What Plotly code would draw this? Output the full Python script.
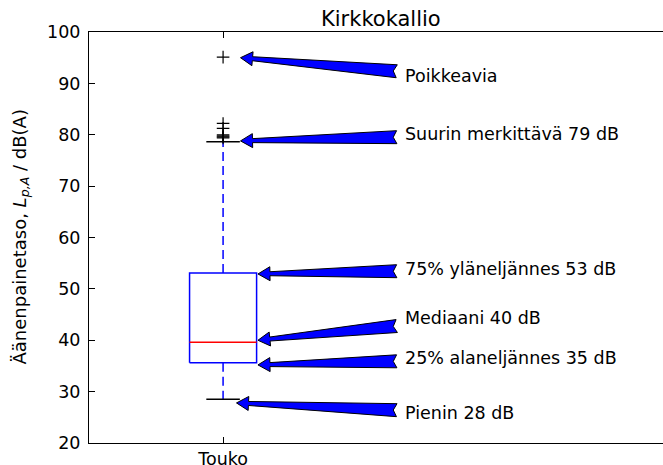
import plotly.graph_objects as go

# Kuukausi ja laatikkokuvion tunnusluvut (dB)
categories = ["Touko"]
q1 = 35.6
median = 39.6
q3 = 53.1
whisker_low = 28.5
whisker_high = 78.65
outliers = [95.1, 82.2, 81.25, 80.0, 79.8, 79.6, 79.4]

# Selitetekstit, niiden korkeus ja nuolten kohteet
labels = ["Poikkeavia", "Suurin merkittävä 79 dB", "75% yläneljännes 53 dB",
          "Mediaani 40 dB", "25% alaneljännes 35 dB", "Pienin 28 dB"]
label_y = [91.4, 80.1, 53.9, 44.3, 36.5, 25.8]
target_x = [1.13, 1.13, 1.26, 1.26, 1.26, 1.10]
target_y = [95.0, 78.8, 52.9, 40.0, 35.2, 27.8]
label_x = 2.34

# kuva on leveämpi kuin ikkuna: oikea reuna jää rajauksen ulkopuolelle
W, H = 687, 465
ML, MR, MT, MB = 89, 0, 32, 22
XR = [0, 4.46]
YR = [20, 100]
FONT = "DejaVu Sans"
FS = 17.5

# pikseliä / yksikkö
sx = (W - ML - MR) / (XR[1] - XR[0])
sy = (H - MT - MB) / (YR[1] - YR[0])

pos = 1
half = 0.25
cap = 0.125

fig = go.Figure()

# laatikko
fig.add_trace(go.Scatter(
    x=[pos - half, pos + half, pos + half, pos - half, pos - half],
    y=[q1, q1, q3, q3, q1],
    mode="lines", line=dict(color="#0000ff", width=1.5),
    showlegend=False, hoverinfo="skip"))
# viikset
for a, b in [(q3, whisker_high), (q1, whisker_low)]:
    fig.add_trace(go.Scatter(
        x=[pos, pos], y=[a, b], mode="lines",
        line=dict(color="#0000ff", width=1.5, dash="9px,5px"),
        showlegend=False, hoverinfo="skip"))
# päätyviivat
for v in [whisker_high, whisker_low]:
    fig.add_trace(go.Scatter(
        x=[pos - cap, pos + cap], y=[v, v], mode="lines",
        line=dict(color="black", width=1.5),
        showlegend=False, hoverinfo="skip"))
# mediaani
fig.add_trace(go.Scatter(
    x=[pos - half, pos + half], y=[median, median], mode="lines",
    line=dict(color="#ff0000", width=1.5),
    showlegend=False, hoverinfo="skip"))
# poikkeavat
fig.add_trace(go.Scatter(
    x=[pos] * len(outliers), y=outliers, mode="markers",
    marker=dict(symbol="cross-thin", size=9, color="black",
                line=dict(width=1.2, color="black")),
    showlegend=False, hoverinfo="skip"))


def fancy_arrow(tx, ty, hx, hy):
    # nuoli pikseleissä (y ylöspäin), palautetaan data-koordinaatteina
    TX, TY = tx * sx, ty * sy
    HX, HY = hx * sx, hy * sy
    dx, dy = HX - TX, HY - TY
    L = (dx * dx + dy * dy) ** 0.5
    ux, uy = dx / L, dy / L
    nx, ny = -uy, ux
    hl, hw, nw, tw, notch = 12, 7, 2, 6.5, 3.5
    bx, by = HX - ux * hl, HY - uy * hl
    pts = [
        (HX, HY),
        (bx + nx * hw, by + ny * hw),
        (bx + nx * nw, by + ny * nw),
        (TX + nx * tw, TY + ny * tw),
        (TX + ux * notch, TY + uy * notch),
        (TX - nx * tw, TY - ny * tw),
        (bx - nx * nw, by - ny * nw),
        (bx - nx * hw, by - ny * hw),
    ]
    return "M " + " L ".join(f"{px / sx:.5f},{py / sy:.5f}" for px, py in pts) + " Z"


for text, ly, hx, hy in zip(labels, label_y, target_x, target_y):
    fig.add_annotation(x=label_x, y=ly, xref="x", yref="y", text=text,
                       showarrow=False, xanchor="left", yanchor="middle",
                       font=dict(family=FONT, size=FS, color="black"))
    # nuolen häntä tekstin keskeltä kohteeseen vedetyllä suoralla
    w_est = len(text) * 0.58 * FS
    cx = label_x * sx + w_est / 2
    cy = ly * sy
    tail_x = label_x * sx - 6
    t = (cx - tail_x) / (cx - hx * sx)
    tail_y = cy + (hy * sy - cy) * t
    fig.add_shape(type="path", xref="x", yref="y",
                  path=fancy_arrow(tail_x / sx, tail_y / sy, hx, hy),
                  fillcolor="#0000ff", line=dict(color="black", width=1))

# otsikko
fig.add_annotation(x=(381 - ML) / (W - ML - MR), y=1, xref="paper", yref="paper",
                   text="Kirkkokallio", showarrow=False,
                   xanchor="center", yanchor="bottom", yshift=-1,
                   font=dict(family=FONT, size=21, color="black"))
# y-akselin nimi
fig.add_annotation(x=(20 - ML) / (W - ML - MR), y=0.5, xref="paper", yref="paper",
                   text="Äänenpainetaso, <i>L</i><sub><i>p,A</i></sub> / dB(A)",
                   showarrow=False, textangle=-90,
                   xanchor="center", yanchor="middle",
                   font=dict(family=FONT, size=18, color="black"))

fig.update_xaxes(range=XR, tickvals=[pos], ticktext=categories,
                 ticks="inside", ticklen=6, tickcolor="black",
                 showline=True, linecolor="black", linewidth=1, mirror="ticks",
                 showgrid=False, zeroline=False, automargin=False,
                 tickfont=dict(family=FONT, size=FS, color="black"))
fig.update_yaxes(range=YR, dtick=10, ticks="inside", ticklen=6, tickcolor="black",
                 showline=True, linecolor="black", linewidth=1, mirror=False,
                 showgrid=False, zeroline=False, ticklabelstandoff=4,
                 automargin=False,
                 tickfont=dict(family=FONT, size=FS, color="black"))

fig.update_layout(width=W, height=H, autosize=False,
                  margin=dict(l=ML, r=MR, t=MT, b=MB),
                  plot_bgcolor="white", paper_bgcolor="white",
                  font=dict(family=FONT, size=FS, color="black"))

fig.write_html("out.html", config={"displayModeBar": False},
               post_script="document.body.style.margin='0';"
                           "document.body.style.overflow='hidden';")
